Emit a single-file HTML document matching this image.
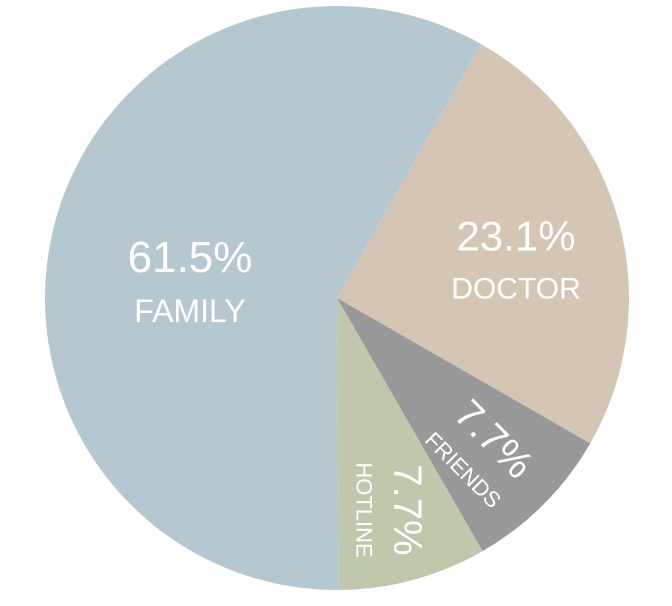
<!DOCTYPE html>
<html><head><meta charset="utf-8"><style>
html,body{margin:0;padding:0;background:#fff;width:672px;height:606px;overflow:hidden}
svg text{font-family:"Liberation Sans",sans-serif;fill:#fff}
</style></head><body>
<svg id="chart" width="672" height="606" viewBox="0 0 672 606"></svg>
<script>
const categories = ["DOCTOR","FRIENDS","HOTLINE","FAMILY"];
const values = [25.1, 8.4, 8.2, 58.3];
const percentLabels = ["23.1%","7.7%","7.7%","61.5%"];
const colors = ["#d5c5b5","#999999","#bfc7ad","#b5c8d1"];
const cx=337, cy=298, r=292, startDeg=29.5;
const svg=document.getElementById('chart');
const NS='http://www.w3.org/2000/svg';
const total=values.reduce((a,b)=>a+b,0);
function pt(deg,rad){const a=(deg-90)*Math.PI/180;return [cx+rad*Math.cos(a),cy+rad*Math.sin(a)];}
const labelCfg={
 DOCTOR:{rot:0,s1:42,s2:30,gap:50,pos:[516,263]},
 FRIENDS:{rot:45,s1:40,s2:22,gap:42,pos:[478,455]},
 HOTLINE:{rot:90,s1:40,s2:22,gap:42,pos:[385,510]},
 FAMILY:{rot:0,s1:44,s2:32,gap:52,pos:[190,285]}
};
let cur=startDeg;
values.forEach((v,i)=>{
 const sweep=v/total*360, a0=cur, a1=cur+sweep; cur=a1;
 const p0=pt(a0,r), p1=pt(a1,r);
 const path=document.createElementNS(NS,'path');
 path.setAttribute('d',`M${cx},${cy} L${p0[0]},${p0[1]} A${r},${r} 0 ${sweep>180?1:0} 1 ${p1[0]},${p1[1]} Z`);
 path.setAttribute('fill',colors[i]);
 
 
 svg.appendChild(path);
 const cfg=labelCfg[categories[i]];
 const lp=cfg.pos;
 const g=document.createElementNS(NS,'g');
 g.setAttribute('transform',`translate(${lp[0]},${lp[1]}) rotate(${cfg.rot})`);
 
 
 const t1=document.createElementNS(NS,'text');
 t1.setAttribute('text-anchor','middle');t1.setAttribute('font-size',cfg.s1);
 t1.setAttribute('y',-cfg.gap/2+cfg.s1*0.3);t1.textContent=percentLabels[i];
 
 
 const t2=document.createElementNS(NS,'text');
 t2.setAttribute('text-anchor','middle');t2.setAttribute('font-size',cfg.s2);
 t2.setAttribute('y',cfg.gap/2+cfg.s2*0.35);t2.textContent=categories[i];
 
 
 g.appendChild(t1);g.appendChild(t2);svg.appendChild(g);
});
</script>
</body></html>
